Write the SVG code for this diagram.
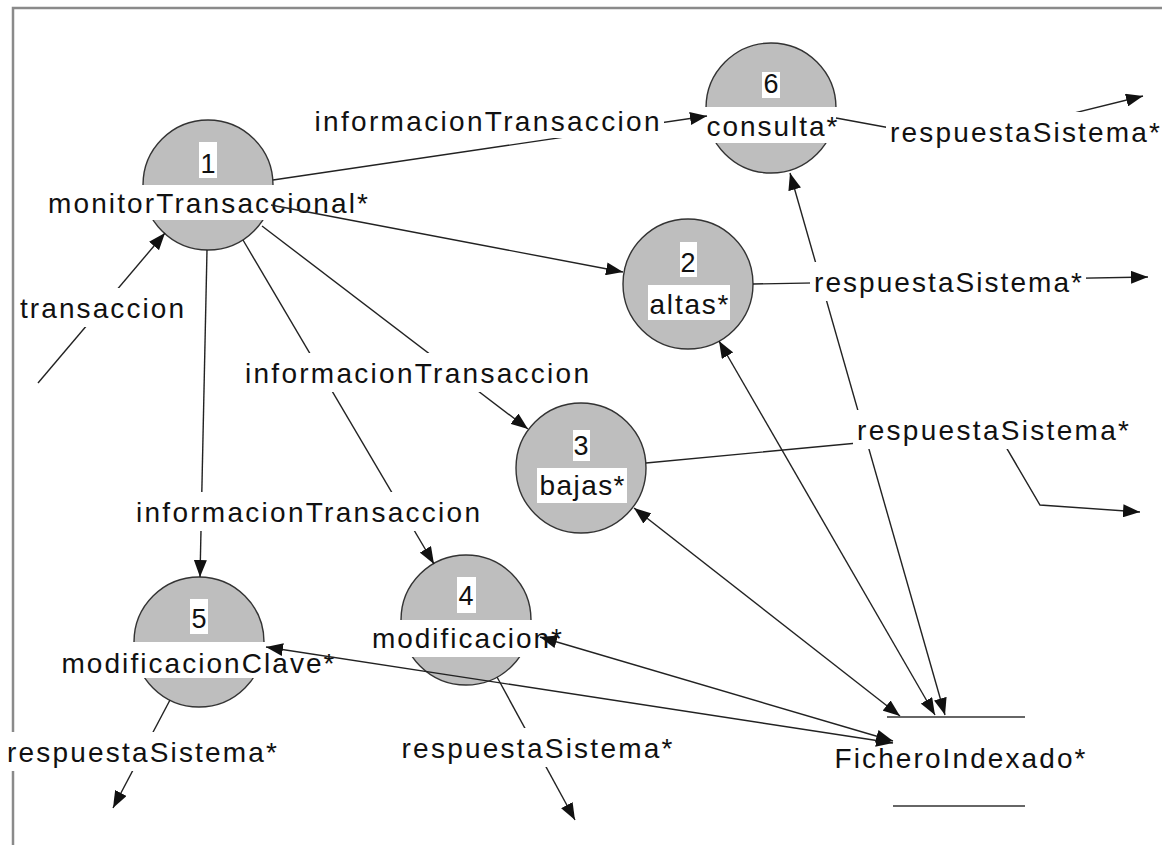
<svg xmlns="http://www.w3.org/2000/svg" width="1162" height="845" viewBox="0 0 1162 845">
  <defs>
    <style>
      .proc { fill: #bebebe; stroke: #333; stroke-width: 1.4; }
      .bg { fill: #ffffff; }
      .txt { font-family: "Liberation Sans", Arial, sans-serif; font-size: 28px; fill: #111; text-anchor: middle; }
      .num { font-family: "Liberation Sans", Arial, sans-serif; font-size: 27px; fill: #111; text-anchor: middle; }
      .flow { fill: none; stroke: #222; stroke-width: 1.4; }
      .store { stroke: #333; stroke-width: 1.6; }
      .frame { fill: none; stroke: #8a8a8a; stroke-width: 2.5; }
    </style>
    <marker id="arrow" viewBox="0 0 17 13" refX="17" refY="6.5" markerWidth="17" markerHeight="13" markerUnits="userSpaceOnUse" orient="auto-start-reverse">
      <path d="M0,0 L17,6.5 L0,13 Z" fill="#111"/>
    </marker>
  </defs>

  <rect width="1162" height="845" fill="#ffffff"/>

  <!-- frame -->
  <polyline class="frame" points="13,845 13,8 1162,8"/>

  <!-- processes -->
  <g id="p1">
    <circle class="proc" cx="208" cy="185" r="65"/>
    <rect class="bg" x="199" y="142" width="18" height="36"/>
    <text class="num" x="208" y="173">1</text>
    <rect class="bg" x="46" y="185" width="324" height="35"/>
    <text class="txt" x="208" y="213" textLength="320" lengthAdjust="spacing">monitorTransaccional*</text>
  </g>
  <g id="p6">
    <circle class="proc" cx="771" cy="108" r="65"/>
    <rect class="bg" x="762" y="72" width="18" height="26"/>
    <text class="num" x="771" y="93">6</text>
    <rect class="bg" x="705" y="107" width="135" height="36"/>
    <text class="txt" x="772" y="136" textLength="131" lengthAdjust="spacing">consulta*</text>
  </g>
  <g id="p2">
    <circle class="proc" cx="688" cy="284" r="65"/>
    <rect class="bg" x="680" y="242" width="17" height="35"/>
    <text class="num" x="688" y="272">2</text>
    <rect class="bg" x="648" y="285" width="82" height="35"/>
    <text class="txt" x="689" y="314" textLength="79" lengthAdjust="spacing">altas*</text>
  </g>
  <g id="p3">
    <circle class="proc" cx="581" cy="468" r="65"/>
    <rect class="bg" x="573" y="430" width="17" height="31"/>
    <text class="num" x="581" y="455">3</text>
    <rect class="bg" x="537" y="468" width="90" height="35"/>
    <text class="txt" x="582" y="495" textLength="85" lengthAdjust="spacing">bajas*</text>
  </g>
  <g id="p4">
    <circle class="proc" cx="466" cy="620" r="65"/>
    <rect class="bg" x="457" y="577" width="19" height="36"/>
    <text class="num" x="466" y="605">4</text>
    <rect class="bg" x="370" y="620" width="194" height="37"/>
    <text class="txt" x="467" y="648" textLength="190" lengthAdjust="spacing">modificacion*</text>
  </g>
  <g id="p5">
    <circle class="proc" cx="199" cy="642" r="65"/>
    <rect class="bg" x="190" y="599" width="18" height="35"/>
    <text class="num" x="199" y="628">5</text>
    <rect class="bg" x="60" y="642" width="277" height="36"/>
    <text class="txt" x="198" y="673" textLength="273" lengthAdjust="spacing">modificacionClave*</text>
  </g>

  <!-- data store -->
  <g id="fichero">
    <line class="store" x1="887" y1="717" x2="1025" y2="717"/>
    <line class="store" x1="893" y1="806" x2="1025" y2="806"/>
    <text class="txt" x="960" y="768" textLength="251" lengthAdjust="spacing">FicheroIndexado*</text>
  </g>

  <!-- flows -->
  <g id="connectors">
    <line class="flow" x1="38" y1="383" x2="165" y2="233" marker-end="url(#arrow)"/>
    <line class="flow" x1="273" y1="180" x2="707" y2="116" marker-end="url(#arrow)"/>
    <line class="flow" x1="271" y1="205" x2="623" y2="272" marker-end="url(#arrow)"/>
    <line class="flow" x1="262" y1="226" x2="528" y2="429" marker-end="url(#arrow)"/>
    <line class="flow" x1="243" y1="240" x2="434" y2="564" marker-end="url(#arrow)"/>
    <line class="flow" x1="207" y1="250" x2="200" y2="577" marker-end="url(#arrow)"/>

    <polyline class="flow" points="836,118 961,141 1143,96" marker-end="url(#arrow)"/>
    <line class="flow" x1="753" y1="284" x2="1148" y2="277" marker-end="url(#arrow)"/>
    <polyline class="flow" points="646,463 996,430 1040,505 1140,512" marker-end="url(#arrow)"/>
    <line class="flow" x1="497" y1="677" x2="575" y2="820" marker-end="url(#arrow)"/>
    <line class="flow" x1="170" y1="700" x2="113" y2="808" marker-end="url(#arrow)"/>

    <line class="flow" x1="790" y1="173" x2="945" y2="715" marker-start="url(#arrow)" marker-end="url(#arrow)"/>
    <line class="flow" x1="719" y1="341" x2="935" y2="715" marker-start="url(#arrow)" marker-end="url(#arrow)"/>
    <line class="flow" x1="634" y1="508" x2="900" y2="716" marker-start="url(#arrow)" marker-end="url(#arrow)"/>
    <line class="flow" x1="540" y1="637" x2="893" y2="741" marker-start="url(#arrow)" marker-end="url(#arrow)"/>
    <line class="flow" x1="266" y1="647" x2="893" y2="743" marker-start="url(#arrow)" marker-end="url(#arrow)"/>

    <!-- flow labels -->
    <g id="flow-labels">
      <rect class="bg" x="311" y="102" width="353" height="36"/>
      <text class="txt" x="487" y="131" textLength="345" lengthAdjust="spacing">informacionTransaccion</text>

      <rect class="bg" x="886" y="112" width="278" height="39"/>
      <text class="txt" x="1025" y="142" textLength="270" lengthAdjust="spacing">respuestaSistema*</text>

      <rect class="bg" x="810" y="262" width="276" height="39"/>
      <text class="txt" x="948" y="292" textLength="268" lengthAdjust="spacing">respuestaSistema*</text>

      <rect class="bg" x="16" y="288" width="172" height="39"/>
      <text class="txt" x="102" y="318" textLength="164" lengthAdjust="spacing">transaccion</text>

      <rect class="bg" x="241" y="353" width="352" height="39"/>
      <text class="txt" x="417" y="383" textLength="344" lengthAdjust="spacing">informacionTransaccion</text>

      <rect class="bg" x="853" y="410" width="280" height="39"/>
      <text class="txt" x="993" y="440" textLength="272" lengthAdjust="spacing">respuestaSistema*</text>

      <rect class="bg" x="132" y="492" width="352" height="39"/>
      <text class="txt" x="308" y="522" textLength="344" lengthAdjust="spacing">informacionTransaccion</text>

      <rect class="bg" x="398" y="728" width="279" height="39"/>
      <text class="txt" x="537" y="758" textLength="271" lengthAdjust="spacing">respuestaSistema*</text>

      <rect class="bg" x="3" y="732" width="278" height="39"/>
      <text class="txt" x="142" y="762" textLength="270" lengthAdjust="spacing">respuestaSistema*</text>
    </g>
  </g>
</svg>
